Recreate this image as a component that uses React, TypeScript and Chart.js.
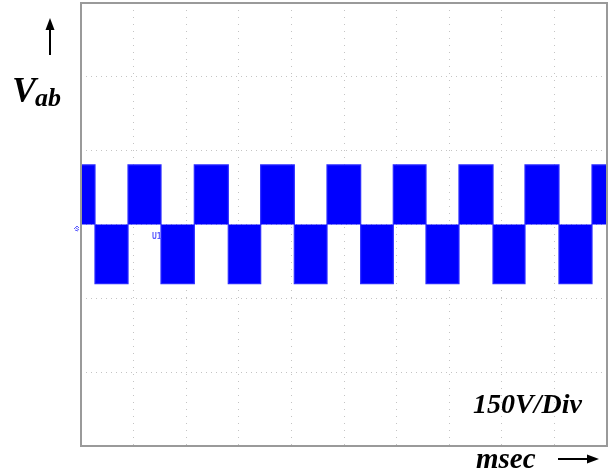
import React, { useEffect, useRef } from "react";
import { Chart, registerables } from "chart.js";

Chart.register(...registerables);

// Time axis in divisions (10 horizontal divisions, msec)
const xMin = 0;
const xMax = 10;
// Voltage axis: 150 V/div, 6 vertical divisions
const yMin = -450;
const yMax = 450;
const yStep = 150;

// Switching instants of the square wave (divisions)
const edgeTimes = [
  0, 0.266, 0.894, 1.521, 2.154, 2.8, 3.416, 4.055, 4.677, 5.317, 5.937,
  6.559, 7.186, 7.833, 8.441, 9.087, 9.715, 10,
];
// Voltage level held from each instant until the next one (V)
const edgeLevels = [
  121, -120, 121, -120, 121, -120, 121, -120, 121, -120, 121, -120, 121,
  -120, 121, -120, 121, 121,
];

const frameColor = "#9a9a9a";

const framePlugin = {
  id: "frame",
  afterDraw(chart: any) {
    const { ctx, chartArea } = chart;
    const { left, top, right, bottom } = chartArea;
    ctx.save();
    ctx.strokeStyle = frameColor;
    ctx.lineWidth = 2;
    ctx.beginPath();
    ctx.moveTo(left, top);
    ctx.lineTo(right, top);
    ctx.lineTo(right, bottom);
    ctx.lineTo(left, bottom);
    ctx.closePath();
    ctx.stroke();
    ctx.restore();
  },
};

export default function App() {
  const canvasRef = useRef<HTMLCanvasElement | null>(null);

  useEffect(() => {
    if (!canvasRef.current) return;
    const data = edgeTimes.map((t, i) => ({ x: t, y: edgeLevels[i] }));
    const chart = new Chart(canvasRef.current, {
      type: "line",
      data: {
        datasets: [
          {
            data,
            stepped: true,
            fill: "origin",
            backgroundColor: "#0000ff",
            borderColor: "#2a2aff",
            borderWidth: 1.2,
            pointRadius: 0,
          },
        ],
      },
      options: {
        animation: false,
        responsive: false,
        maintainAspectRatio: false,
        layout: { padding: { left: 81, top: 3, right: 6, bottom: 29 } },
        plugins: {
          legend: { display: false },
          tooltip: { enabled: false },
          title: { display: false },
        },
        scales: {
          x: {
            type: "linear",
            min: xMin,
            max: xMax,
            ticks: { display: false, stepSize: 1 },
            grid: {
              color: "#c4c4c4",
              lineWidth: 1,
              drawTicks: false,
              tickLength: 0,
            },
            border: { display: false, dash: [1, 6] },
          },
          y: {
            min: yMin,
            max: yMax,
            ticks: { display: false, stepSize: yStep },
            grid: {
              color: "#c4c4c4",
              lineWidth: 1,
              drawTicks: false,
              tickLength: 0,
            },
            border: { display: false, dash: [1, 4] },
          },
        },
      },
      plugins: [framePlugin],
    });
    return () => chart.destroy();
  }, []);

  const serif = '"Liberation Serif", "Times New Roman", serif';
  const label: React.CSSProperties = {
    position: "absolute",
    fontFamily: serif,
    fontWeight: "bold",
    fontStyle: "italic",
    lineHeight: 1,
    color: "#000",
    whiteSpace: "nowrap",
  };

  return (
    <div
      style={{
        position: "absolute",
        left: 0,
        top: 0,
        width: 613,
        height: 475,
        background: "#fff",
      }}
    >
      <canvas
        ref={canvasRef}
        width={613}
        height={475}
        style={{ position: "absolute", left: 0, top: 0, width: 613, height: 475 }}
      />
      <svg
        width={613}
        height={475}
        style={{ position: "absolute", left: 0, top: 0, pointerEvents: "none" }}
      >
        <line x1={50} y1={55} x2={50} y2={28} stroke="#000" strokeWidth={2} />
        <polygon points="50,18 45.5,30 54.5,30" fill="#000" />
        <line x1={558} y1={459} x2={590} y2={459} stroke="#000" strokeWidth={2} />
        <polygon points="599,459 587,454.5 587,463.5" fill="#000" />
        <path
          d="M74 229 L77 226 L79 228 M75 230 L78 231 M76 228 L79 230"
          stroke="#5a5aff"
          strokeWidth={1}
          fill="none"
        />
      </svg>
      <div style={{ ...label, left: 12, top: 72, fontSize: 36 }}>V</div>
      <div style={{ ...label, left: 35, top: 85, fontSize: 26 }}>ab</div>
      <div style={{ ...label, left: 473, top: 390, fontSize: 28 }}>150V/Div</div>
      <div style={{ ...label, left: 476, top: 444, fontSize: 29 }}>msec</div>
      <div
        style={{
          position: "absolute",
          left: 152,
          top: 233,
          fontSize: 8,
          fontFamily: '"DejaVu Sans Mono", monospace',
          fontWeight: "bold",
          color: "#5a5aff",
          lineHeight: 1,
        }}
      >
        U1
      </div>
    </div>
  );
}
